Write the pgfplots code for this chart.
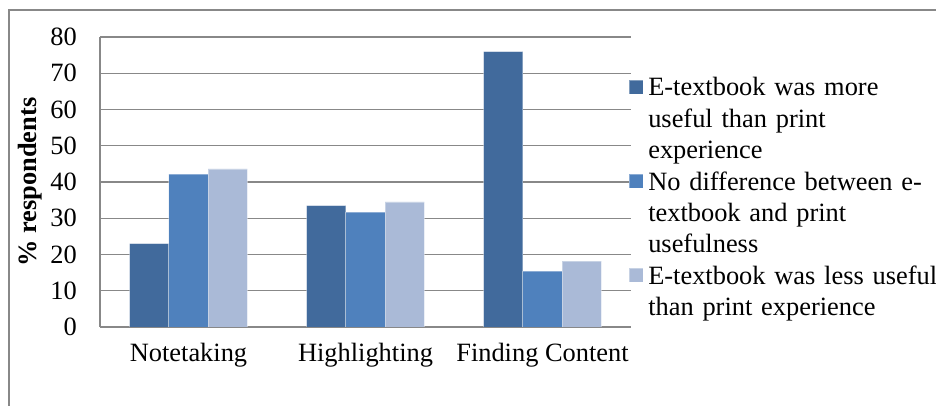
\documentclass[border=0pt]{standalone}
\usepackage{pgfplots}
\pgfplotsset{compat=1.18}
\usepackage{fontspec}
\setmainfont{Liberation Serif}
\definecolor{cA}{HTML}{416A9C}
\definecolor{cB}{HTML}{4F81BD}
\definecolor{cC}{HTML}{AABAD7}
\definecolor{gridc}{HTML}{888888}
\newcommand{\bigf}{\fontsize{26.5}{31.5}\selectfont}
\begin{document}
\begin{tikzpicture}
\useasboundingbox (0,0) rectangle (936bp,406bp);
\draw[gridc, line width=1.5bp] (9bp,-10bp) -- (9bp,396bp) -- (950bp,396bp);
\begin{axis}[
  at={(100bp,79bp)}, anchor=south west,
  scale only axis, width=531bp, height=290bp,
  ybar=0pt, bar width=39.3bp,
  xmin=-0.5, xmax=2.5, ymin=0, ymax=80,
  xtick={0,1,2}, xticklabels={Notetaking,Highlighting,Finding Content},
  ytick={0,10,...,80},
  axis x line*=bottom, axis y line*=left,
  axis line style={gridc, line width=1.3bp, -},
  major tick length=0pt,
  ymajorgrids, grid style={gridc, line width=1.3bp},
  /pgf/number format/assume math mode=true,
  ticklabel style={font=\bigf},
  yticklabel style={inner sep=0pt, anchor=east, xshift=-23bp},
  xticklabel style={inner sep=0pt, anchor=base, yshift=-35bp},
  ylabel={\textbf{\% respondents}},
  ylabel style={font=\bigf, at={(axis description cs:-0.1318,0.5)}, anchor=center},
  legend image code/.code={\fill[#1] (0bp,2bp) rectangle (14bp,16bp);},
  legend style={at={(axis description cs:0.9962,0.8724)}, anchor=north west,
    draw=none, fill=none, inner sep=0pt, outer sep=0pt, font=\bigf,
    row sep=0pt,
    nodes={inner sep=0pt, outer sep=0pt, text depth=, text height=},
    cells={anchor=base west, align=left, text width=300bp, text depth=, text height=},
    /tikz/every odd column/.append style={column sep=4.5bp}},
]
\addplot[fill=cA, draw=white, draw opacity=0.35, line width=0.8bp] coordinates {(0,23) (1,33.5) (2,76)};
\addplot[fill=cB, draw=white, draw opacity=0.35, line width=0.8bp] coordinates {(0,42.2) (1,31.7) (2,15.4)};
\addplot[fill=cC, draw=white, draw opacity=0.35, line width=0.8bp] coordinates {(0,43.6) (1,34.5) (2,18.2)};
\legend{{\strut E-textbook was more\\useful than print\\experience\strut},
        {\strut No difference between e-\\textbook and print\\usefulness\strut},
        {\strut E-textbook was less useful\\than print experience\strut}}
\end{axis}
\end{tikzpicture}
\end{document}
